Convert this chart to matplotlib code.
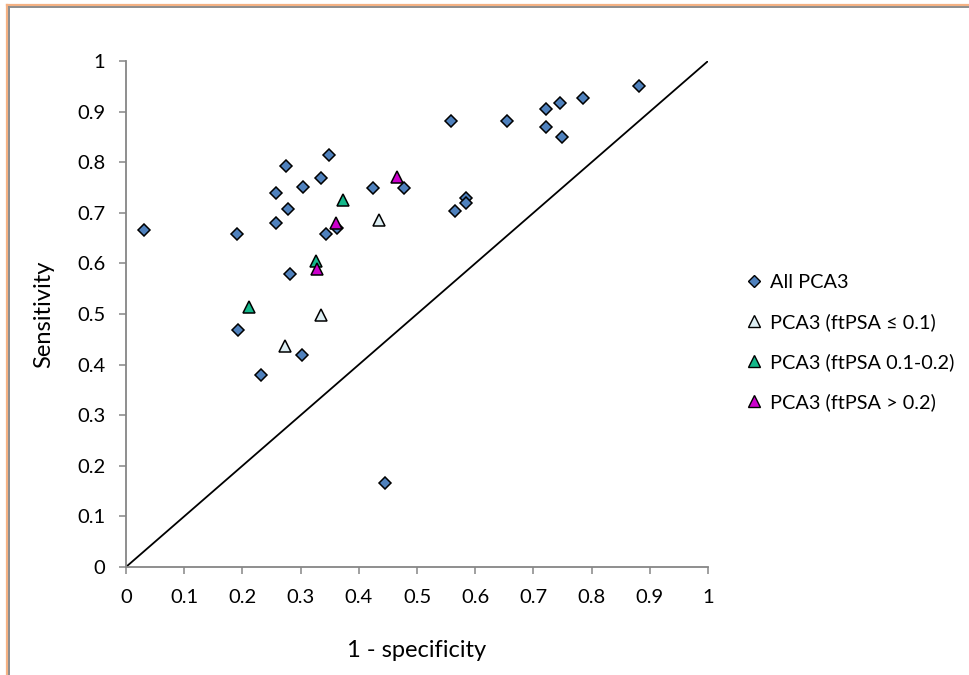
import matplotlib
matplotlib.use("Agg")
import matplotlib.pyplot as plt
from matplotlib.lines import Line2D

plt.rcParams['font.family'] = ['Lato', 'DejaVu Sans']

# 1 - specificity (x) and sensitivity (y) for each PCA3 result
all_x = [0.031, 0.191, 0.275, 0.258, 0.304, 0.335, 0.348, 0.278, 0.257, 0.344,
         0.362, 0.424, 0.478, 0.282, 0.192, 0.302, 0.232, 0.445, 0.558, 0.655,
         0.722, 0.746, 0.785, 0.881, 0.721, 0.749, 0.584, 0.585, 0.566]
all_y = [0.666, 0.658, 0.792, 0.740, 0.752, 0.769, 0.814, 0.707, 0.680, 0.658,
         0.669, 0.750, 0.750, 0.579, 0.469, 0.419, 0.379, 0.167, 0.881, 0.881,
         0.905, 0.917, 0.926, 0.950, 0.870, 0.849, 0.730, 0.719, 0.704]

low_x = [0.435, 0.335, 0.274]
low_y = [0.686, 0.499, 0.437]

mid_x = [0.373, 0.326, 0.211]
mid_y = [0.725, 0.605, 0.513]

high_x = [0.360, 0.465, 0.328]
high_y = [0.680, 0.771, 0.588]

series_labels = ["All PCA3", "PCA3 (ftPSA \u2264 0.1)",
                 "PCA3 (ftPSA 0.1-0.2)", "PCA3 (ftPSA > 0.2)"]

ticks = [0, 0.1, 0.2, 0.3, 0.4, 0.5, 0.6, 0.7, 0.8, 0.9, 1]
tick_labels = ["0", "0.1", "0.2", "0.3", "0.4", "0.5", "0.6", "0.7", "0.8", "0.9", "1"]

fig = plt.figure(figsize=(9.69, 6.75), dpi=100)
ax = fig.add_axes([0.1300, 0.1600, 0.6007, 0.7496])

ax.plot([0, 1], [0, 1], color="black", lw=1.3, zorder=2)

ax.plot(all_x, all_y, linestyle="none", marker="D", ms=6.3, mfc="#4F81BD",
        mec="black", mew=1.1, zorder=3)
ax.plot(low_x, low_y, linestyle="none", marker="^", ms=9, mfc="#DDEEF3",
        mec="black", mew=1.1, zorder=4)
ax.plot(mid_x, mid_y, linestyle="none", marker="^", ms=9, mfc="#14B88A",
        mec="black", mew=1.1, zorder=4)
ax.plot(high_x, high_y, linestyle="none", marker="^", ms=9, mfc="#CC00CC",
        mec="black", mew=1.1, zorder=5)

ax.set_xlim(0, 1)
ax.set_ylim(0, 1)
ax.set_xticks(ticks)
ax.set_xticklabels(tick_labels)
ax.set_yticks(ticks)
ax.set_yticklabels(tick_labels)

for side in ("top", "right"):
    ax.spines[side].set_visible(False)
for side in ("left", "bottom"):
    ax.spines[side].set_color("#868686")
    ax.spines[side].set_linewidth(1.3)
ax.tick_params(axis="both", direction="out", length=5, width=1.1,
               color="#868686", labelsize=14.5, labelcolor="black")
ax.tick_params(axis="x", pad=11)
ax.tick_params(axis="y", pad=10)

ax.set_xlabel("1 - specificity", fontsize=17, labelpad=24)
ax.set_ylabel("Sensitivity", fontsize=17, labelpad=16)

handles = [
    Line2D([], [], linestyle="none", marker="D", ms=6, mfc="#4F81BD", mec="black", mew=1.0),
    Line2D([], [], linestyle="none", marker="^", ms=8, mfc="#DDEEF3", mec="black", mew=1.0),
    Line2D([], [], linestyle="none", marker="^", ms=8, mfc="#14B88A", mec="black", mew=1.0),
    Line2D([], [], linestyle="none", marker="^", ms=8, mfc="#CC00CC", mec="black", mew=1.0),
]
fig.legend(handles, series_labels, loc="upper left",
           bbox_to_anchor=(0.762, 0.606), frameon=False, fontsize=14.3,
           handlelength=0.8, handletextpad=0.4, labelspacing=1.12,
           borderaxespad=0)

# chart frame: outer orange edge with a gray inner edge
W, H = 969, 675
fig.add_artist(Line2D([6.5 / W, 1], [1 - 4.5 / H, 1 - 4.5 / H], color="#F4B183", lw=1.6))
fig.add_artist(Line2D([6.5 / W, 6.5 / W], [0, 1 - 4.5 / H], color="#F4B183", lw=1.6))
fig.add_artist(Line2D([8.7 / W, 1], [1 - 6.7 / H, 1 - 6.7 / H], color="#8C8C8C", lw=1.4))
fig.add_artist(Line2D([8.7 / W, 8.7 / W], [0, 1 - 6.7 / H], color="#8C8C8C", lw=1.4))

fig.savefig("out.png", dpi=100)
